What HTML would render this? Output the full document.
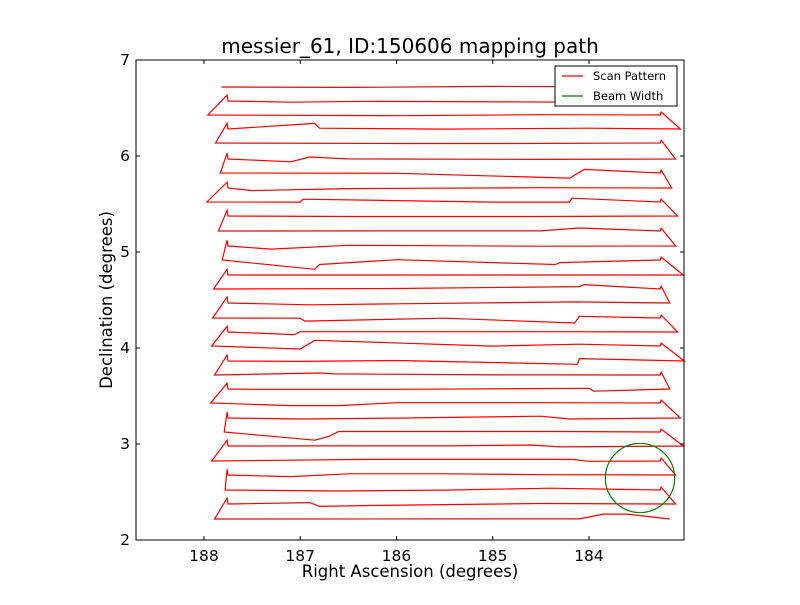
<!DOCTYPE html>
<html><head><meta charset="utf-8"><style>
body{margin:0;background:#fff;position:relative;}
svg text{font-family:"DejaVu Sans","Liberation Sans",sans-serif;}
</style></head><body>
<svg id="chart" width="800" height="600" xmlns="http://www.w3.org/2000/svg">
<rect x="0" y="0" width="800" height="600" fill="#fff"/>
<g id="plot"></g>
</svg>
<script>
// Row data: dec of each scan row, start RA, end RA, and intermediate bumps [ra, dec]
const rowDec = [6.719,6.573,6.427,6.281,6.135,5.969,5.823,5.667,5.521,5.375,5.219,5.063,4.917,4.760,4.615,4.469,4.313,4.167,4.021,3.865,3.719,3.573,3.427,3.271,3.125,2.979,2.823,2.677,2.521,2.375,2.219];
const rowStart = [187.82,183.16,187.96,183.05,187.88,183.10,187.83,183.14,187.97,183.08,187.85,183.10,187.81,183.02,187.90,183.16,187.91,183.08,187.92,183.01,187.89,183.16,187.93,183.05,187.79,183.02,187.92,183.10,187.78,183.10,187.89];
const rowEnd = [183.26,187.75,183.26,187.75,183.26,187.75,183.26,187.75,183.26,187.75,183.26,187.75,183.26,187.75,183.26,187.75,183.26,187.75,183.26,187.75,183.26,187.75,183.26,187.75,183.26,187.75,183.26,187.75,183.26,187.75,183.16];
const rowBumps = [
 [[186.5,6.715],[185.0,6.725]],
 [[184.05,6.56],[184.0,6.59],[186.3,6.57],[187.1,6.56]],
 [[186.0,6.42],[184.5,6.43]],
 [[186.85,6.34],[186.8,6.29],[185.5,6.28],[184.0,6.29]],
 [[186.0,6.13],[184.8,6.13]],
 [[184.5,5.965],[186.5,5.97],[186.9,5.99],[187.1,5.94]],
 [[186.0,5.82],[184.05,5.86],[184.2,5.77]],
 [[184.5,5.67],[186.5,5.66],[187.5,5.64]],
 [[187.0,5.52],[186.97,5.55],[185.0,5.52],[184.2,5.52],[184.18,5.56]],
 [[184.5,5.37],[186.5,5.37]],
 [[186.0,5.22],[184.5,5.22],[184.1,5.25]],
 [[184.5,5.06],[186.5,5.07],[187.3,5.03]],
 [[186.85,4.82],[186.8,4.87],[186.0,4.92],[184.3,4.89],[184.35,4.87]],
 [[184.6,4.76],[186.5,4.76]],
 [[186.0,4.62],[184.1,4.64],[184.05,4.66]],
 [[184.15,4.48],[186.0,4.46],[186.9,4.45]],
 [[187.0,4.31],[186.95,4.28],[185.5,4.31],[184.1,4.33],[184.15,4.26]],
 [[184.5,4.17],[186.5,4.17],[187.0,4.17],[187.06,4.14]],
 [[186.85,4.08],[187.0,3.99],[185.0,4.02],[184.1,4.04]],
 [[184.12,3.83],[184.1,3.89],[186.0,3.87],[187.0,3.86]],
 [[186.8,3.74],[186.65,3.73],[184.9,3.72],[184.3,3.72]],
 [[183.95,3.55],[184.0,3.58],[186.0,3.57],[187.5,3.57]],
 [[186.6,3.40],[187.1,3.40],[186.0,3.43],[184.5,3.43]],
 [[184.2,3.26],[184.5,3.29],[186.0,3.27],[187.0,3.26]],
 [[186.7,3.08],[186.85,3.04],[186.6,3.13],[185.5,3.13],[184.3,3.13]],
 [[184.3,2.97],[184.6,2.99],[185.5,2.98],[186.8,2.98]],
 [[186.3,2.84],[184.0,2.82],[184.18,2.84]],
 [[184.5,2.68],[185.5,2.69],[186.5,2.69],[187.1,2.66]],
 [[186.6,2.51],[185.5,2.52],[184.4,2.54]],
 [[184.5,2.38],[186.2,2.36],[186.8,2.35],[186.9,2.39]],
 [[185.0,2.22],[184.1,2.22],[183.85,2.27],[183.6,2.27]]
];
const beamRA = [183.47];
const beamDec = [2.646];
const beamRadius = [0.36];
const xTicks = [188,187,186,185,184];
const yTicks = [2,3,4,5,6,7];

const L=136,R=684,T=60,B=540;
const xMin=188.706,xMax=183.013,yMin=2,yMax=7;
const sx=v=>L+(xMin-v)/(xMin-xMax)*(R-L);
const sy=v=>B-(v-yMin)/(yMax-yMin)*(B-T);
const NS='http://www.w3.org/2000/svg';
const g=document.getElementById('plot');
function mk(t,a){const e=document.createElementNS(NS,t);for(const k in a)e.setAttribute(k,a[k]);g.appendChild(e);return e;}

let pts=[];
for(let i=0;i<rowDec.length;i++){
  const d=rowDec[i];
  const right=rowStart[i]>rowEnd[i];
  pts.push([rowStart[i],d]);
  const bs=rowBumps[i].map((b,k)=>[b,k]).sort((a,b)=>{
    const diff=right?(b[0][0]-a[0][0]):(a[0][0]-b[0][0]);
    return Math.abs(diff)<1e-9?a[1]-b[1]:diff;
  }).map(x=>x[0]);
  for(const b of bs) pts.push(b);
  pts.push([rowEnd[i],d]);
  if(i<rowDec.length-1){
    if(right) pts.push([rowEnd[i]-0.01,d+0.03]);
    else pts.push([rowEnd[i]+0.01,d+0.06]);
  }
}
const p=mk('polyline',{points:pts.map(q=>sx(q[0]).toFixed(1)+','+sy(q[1]).toFixed(1)).join(' '),fill:'none',stroke:'#ff0000','stroke-width':1.2,'stroke-linejoin':'miter'});



const rxp=Math.abs(sx(beamRA[0]+beamRadius[0])-sx(beamRA[0]));
const ryp=Math.abs(sy(beamDec[0]+beamRadius[0])-sy(beamDec[0]));
const c=mk('ellipse',{cx:sx(beamRA[0]),cy:sy(beamDec[0]),rx:rxp,ry:ryp,fill:'none',stroke:'#008000','stroke-width':1.2});



const f=mk('rect',{x:L,y:T,width:R-L,height:B-T,fill:'none',stroke:'#000','stroke-width':1});



for(const t of xTicks){
  const x=sx(t);
  const a=mk('line',{x1:x,y1:B,x2:x,y2:B-4,stroke:'#000'});
  
  
  const b=mk('line',{x1:x,y1:T,x2:x,y2:T+4,stroke:'#000'});
  
  
  const tx=mk('text',{x:x,y:B+21,'text-anchor':'middle','font-size':15.5});
  tx.textContent=t;
  
  
}
for(const t of yTicks){
  const y=sy(t);
  const a=mk('line',{x1:L,y1:y,x2:L+4,y2:y,stroke:'#000'});
  
  
  const b=mk('line',{x1:R,y1:y,x2:R-4,y2:y,stroke:'#000'});
  
  
  const tx=mk('text',{x:L-6,y:y+5,'text-anchor':'end','font-size':15.5});
  tx.textContent=t;
  
  
}
</script>
<svg width="800" height="600" style="position:absolute;left:0;top:0" xmlns="http://www.w3.org/2000/svg">
<text x="410" y="53" text-anchor="middle" font-size="20" font-family="DejaVu Sans, sans-serif">messier_61, ID:150606 mapping path</text>
<text x="410" y="577" text-anchor="middle" font-size="16.5" font-family="DejaVu Sans, sans-serif">Right Ascension (degrees)</text>
<text x="112" y="300" text-anchor="middle" font-size="16.5" font-family="DejaVu Sans, sans-serif" transform="rotate(-90 112 300)">Declination (degrees)</text>
<g>
<rect x="555" y="66" width="122" height="40" fill="#fff" stroke="#000" stroke-width="1"/>
<line x1="562" y1="76" x2="583" y2="76" stroke="#ff0000" stroke-width="1.2"/>
<text x="593" y="80" font-size="11.5" font-family="DejaVu Sans, sans-serif">Scan Pattern</text>
<line x1="562" y1="96" x2="583" y2="96" stroke="#008000" stroke-width="1.2"/>
<text x="593" y="100" font-size="11.5" font-family="DejaVu Sans, sans-serif">Beam Width</text>
</g>
</svg>
</body></html>
